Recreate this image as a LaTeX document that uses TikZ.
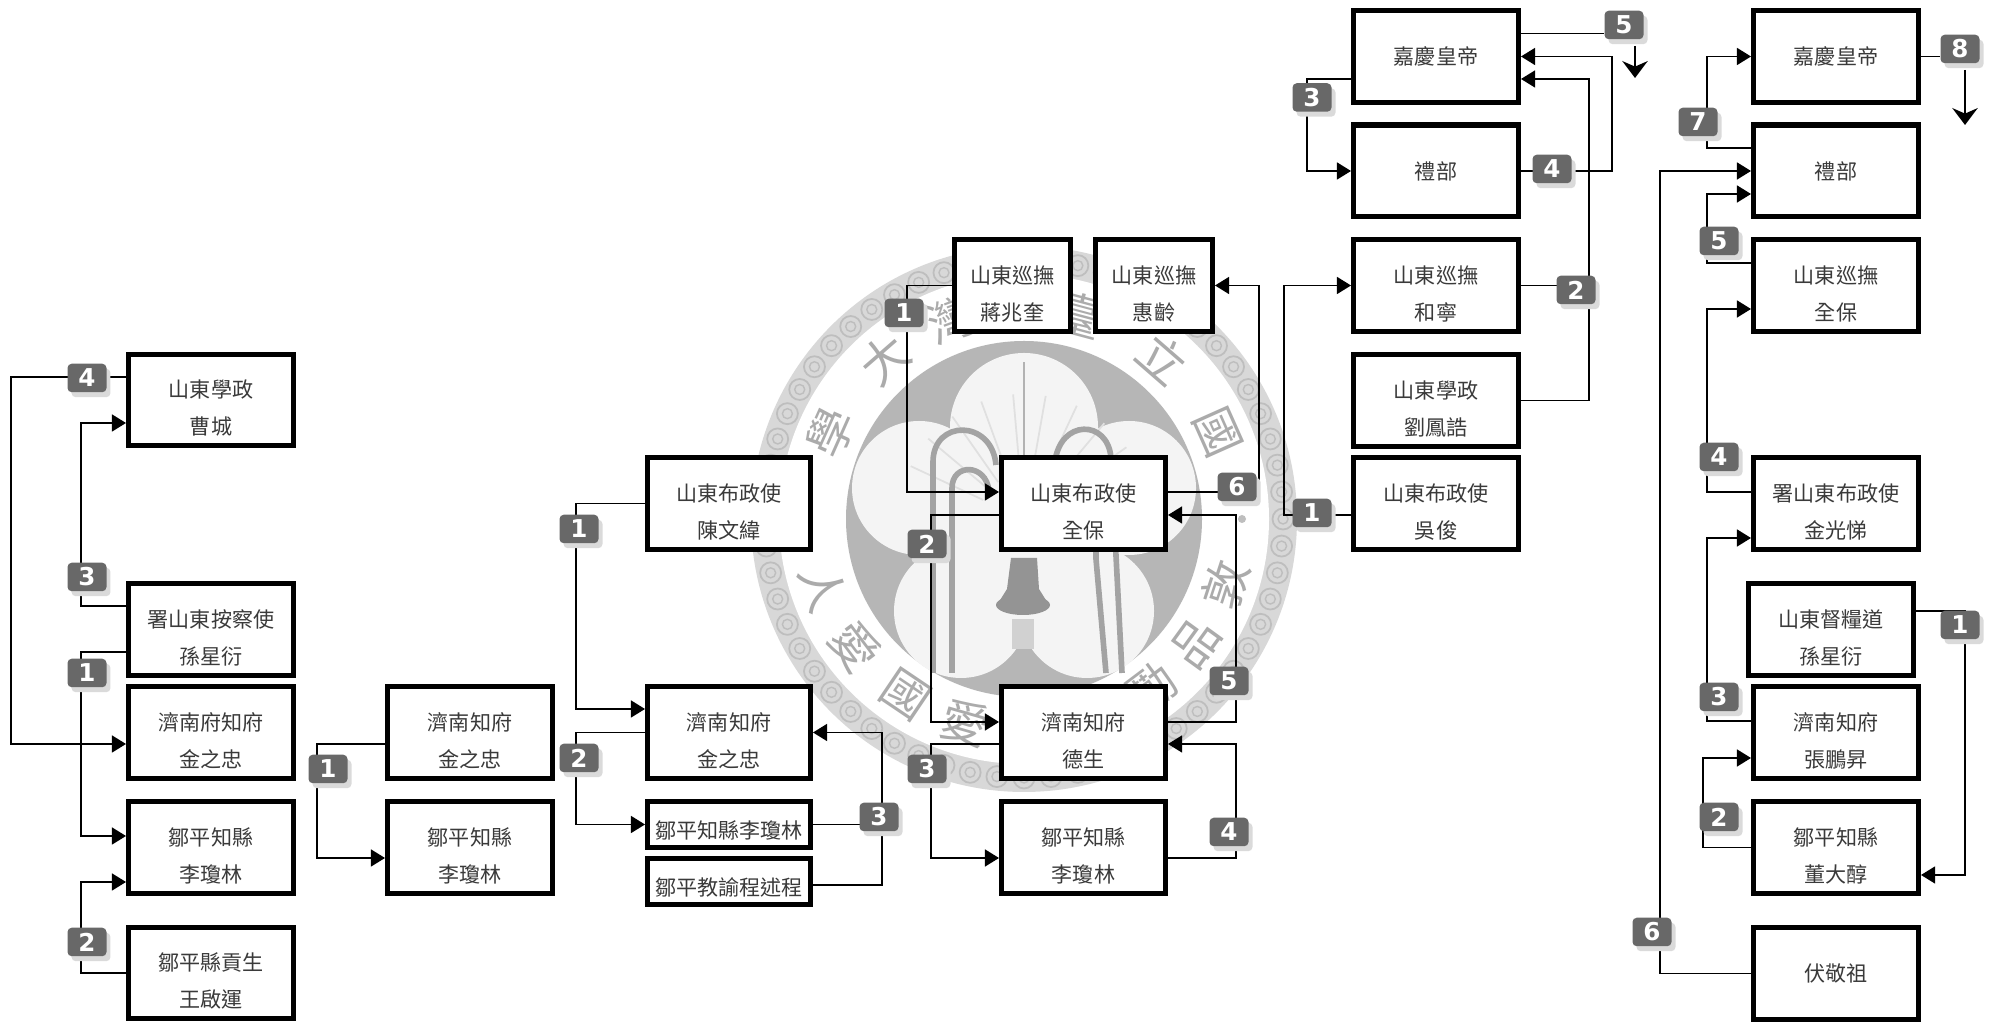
\documentclass[tikz,border=0pt]{standalone}
\usepackage{fontspec}
\setmainfont{Noto Sans CJK TC}
\setsansfont{DejaVu Sans}
\usetikzlibrary{calc,arrows.meta,shadows}

\definecolor{ink}{HTML}{3A3A3A}
\definecolor{sealband}{HTML}{D8D8D8}
\definecolor{sealline}{HTML}{BEBEBE}
\definecolor{sealdisc}{HTML}{B6B6B6}
\definecolor{sealpetal}{HTML}{F4F4F4}
\definecolor{sealmark}{HTML}{ABABAB}
\definecolor{badgegray}{HTML}{686868}
\definecolor{badgeshade}{HTML}{DADADA}

\tikzset{
  office/.style={draw,line width=1.5pt,fill=white,minimum width=1.647cm,minimum height=0.917cm,
    inner sep=0pt,align=center,text=ink,font=\fontsize{6}{10.5}\selectfont},
  duo/.style={execute at begin node={\rule{0pt}{20.3pt}}},
  slim/.style={minimum width=1.627cm,minimum height=0.46cm,execute at begin node={\rule{0pt}{8.4pt}}},
  wire/.style={line width=0.55pt},
  flow/.style={wire,-{Triangle[length=4pt,width=4.8pt]}},
  outflow/.style={line width=0.7pt,-{Stealth[length=4.8pt,width=7.2pt]}},
  badge/.style={fill=badgegray,rounded corners=1.2pt,minimum width=0.39cm,minimum height=0.285cm,inner sep=0pt,
    text=white,font=\fontsize{7}{8}\sffamily\bfseries,
    drop shadow={shadow xshift=0.04cm,shadow yshift=-0.05cm,fill=badgeshade,opacity=1}},
  sealchar/.style={text=sealmark,inner sep=0pt,font=\fontsize{13.5}{14}\selectfont},
}

\begin{document}
\begin{tikzpicture}[x=1cm,y=1cm]
\useasboundingbox (0,0) rectangle (20,10.25);

% ----- seal behind the chart -----
\begin{scope}[shift={(10.24,5.06)}]
  \fill[sealband] (0,0) circle (2.73);
  \foreach \a in {0,6,...,354} {
    \draw[sealline,line width=0.5pt] (\a:2.59) circle (0.105);
    \draw[sealline,line width=0.4pt] (\a:2.59) circle (0.05);
  }
  \fill[white] (0,0) circle (2.45);
  \fill[sealdisc] (0,0) circle (1.78);
  \fill[sealpetal] (0,0.92) circle (0.74) (-1.05,0.31) circle (0.67) (1.05,0.31) circle (0.67)
    (-0.63,-0.92) circle (0.67) (0.63,-0.92) circle (0.67) (0,0) circle (0.9);
  % leaves
  \foreach \a in {20,35,...,160} {
    \draw[black!12,line width=0.5pt] (\a:0.45) -- (\a:1.25);
  }
  \draw[black!30,line width=0.5pt] (0,0.61) -- (0,1.57);
  % pipes
  \draw[black!36,line width=1.6pt] (-0.91,-1.54) -- (-0.91,0.57) .. controls (-0.91,1.0) and (-0.32,1.0) .. (-0.28,0.54);
  \draw[black!36,line width=1.6pt] (-0.72,-1.54) -- (-0.72,0.31) .. controls (-0.72,0.56) and (-0.38,0.56) .. (-0.35,0.28);
  \draw[black!36,line width=1.6pt] (0.31,0.57) .. controls (0.36,1.0) and (0.84,1.0) .. (0.87,0.61) -- (0.98,-1.54);
  \draw[black!36,line width=1.6pt] (0.72,0.2) -- (0.72,-0.4) -- (0.82,-1.54);
  % bell
  \fill[black!42] (-0.13,-0.39) -- (0.13,-0.39) -- (0.15,-0.7) -- (0.25,-0.86) -- (-0.27,-0.86) -- (-0.17,-0.7) -- cycle;
  \fill[black!42] (-0.01,-0.86) ellipse (0.27 and 0.1);
  \fill[black!18] (-0.12,-1.0) rectangle (0.1,-1.3);
  \fill[sealline] (2.18,0) circle (0.04);
  % name and motto round the band
  \foreach \a/\c in {24/國,49/立,75/臺,110/灣,131/大,156/學} {
    \node[sealchar,rotate=\a-90] (seal\a) at (\a:2.12) {\c};
  }
  \foreach \a/\c in {-18/敦,-36/品,-53/勵,-106/愛,-124/國,-143/愛,-161/人} {
    \node[sealchar,rotate=\a+90] (seal\a) at (\a:2.12) {\c};
  }
\end{scope}

% Panel A
\node[office,duo] (A1) at (2.11,6.25) {山東學政\\曹城};
\node[office,duo] (A2) at (2.11,3.955) {署山東按察使\\孫星衍};
\node[office,duo] (A3) at (2.11,2.925) {濟南府知府\\金之忠};
\node[office,duo] (A4) at (2.11,1.775) {鄒平知縣\\李瓊林};
\node[office,duo] (A5) at (2.11,0.52) {鄒平縣貢生\\王啟運};

\draw[flow] ([yshift=-0.225cm]A2.west) -- ++(-0.45,0) |- ([yshift=0.115cm]A4.west);
\draw[flow] (A5.west) -- ++(-0.45,0) |- ([yshift=-0.345cm]A4.west);
\draw[flow] ([yshift=0.235cm]A2.west) -- ++(-0.45,0) |- ([yshift=-0.23cm]A1.west);
\draw[flow] ([yshift=0.23cm]A1.west) -- ++(-1.15,0) |- ([yshift=-0.115cm]A3.west);

\node[badge] (bA1) at (0.87,3.52) {1};
\node[badge] (bA2) at (0.87,0.83) {2};
\node[badge] (bA3) at (0.87,4.48) {3};
\node[badge] (bA4) at (0.87,6.47) {4};

% Panel B
\node[office,duo] (B1) at (4.70,2.925) {濟南知府\\金之忠};
\node[office,duo] (B2) at (4.70,1.775) {鄒平知縣\\李瓊林};

\draw[flow] ([yshift=-0.115cm]B1.west) -- ++(-0.68,0) |- ([yshift=-0.105cm]B2.west);

\node[badge] (bB1) at (3.28,2.56) {1};

% Panel C
\node[office,duo,minimum width=1.627cm] (C1) at (7.29,5.215) {山東布政使\\陳文緯};
\node[office,duo,minimum width=1.627cm] (C2) at (7.29,2.925) {濟南知府\\金之忠};
\node[office,slim] (C3) at (7.29,2.005) {鄒平知縣李瓊林};
\node[office,slim] (C4) at (7.29,1.435) {鄒平教諭程述程};

\draw[flow] (C1.west) -- ++(-0.69,0) |- ([yshift=0.235cm]C2.west);
\draw[flow] (C2.west) -- ++(-0.69,0) |- (C3.west);
\draw[flow] (C3.east) -- ++(0.69,0) |- (C2.east);
\draw[wire] ([yshift=-0.035cm]C4.east) -| ($(C3.east)+(0.69,0)$);

\node[badge] (bC1) at (5.79,4.96) {1};
\node[badge] (bC2) at (5.79,2.67) {2};
\node[badge] (bC3) at (8.79,2.08) {3};

% Panel D
\node[office,duo,minimum width=1.157cm] (D1) at (10.125,7.395) {山東巡撫\\蔣兆奎};
\node[office,duo,minimum width=1.167cm] (D2) at (11.54,7.395) {山東巡撫\\惠齡};
\node[office,duo,minimum width=1.637cm] (D3) at (10.835,5.215) {山東布政使\\全保};
\node[office,duo,minimum width=1.637cm] (D4) at (10.835,2.925) {濟南知府\\德生};
\node[office,duo,minimum width=1.637cm] (D5) at (10.835,1.775) {鄒平知縣\\李瓊林};

\draw[flow] (D1.west) -- ++(-0.45,0) |- ([yshift=0.115cm]D3.west);
\draw[flow] ([yshift=-0.115cm]D3.west) -- ++(-0.68,0) |- ([yshift=0.105cm]D4.west);
\draw[flow] ([yshift=-0.115cm]D4.west) -- ++(-0.68,0) |- ([yshift=-0.105cm]D5.west);
\draw[flow] ([yshift=-0.105cm]D5.east) -- ++(0.68,0) |- ([yshift=-0.115cm]D4.east);
\draw[flow] ([yshift=0.105cm]D4.east) -- ++(0.68,0) |- ([yshift=-0.115cm]D3.east);
\draw[flow] ([yshift=0.115cm]D3.east) -- ++(0.91,0) |- (D2.east);

\node[badge] (bD1) at (9.04,7.12) {1};
\node[badge] (bD2) at (9.27,4.81) {2};
\node[badge] (bD3) at (9.27,2.56) {3};
\node[badge] (bD4) at (12.29,1.93) {4};
\node[badge] (bD5) at (12.29,3.44) {5};
\node[badge] (bD6) at (12.37,5.38) {6};

% Panel E
\node[office] (E1) at (14.36,9.685) {嘉慶皇帝};
\node[office] (E2) at (14.36,8.54) {禮部};
\node[office,duo] (E3) at (14.36,7.395) {山東巡撫\\和寧};
\node[office,duo] (E4) at (14.36,6.245) {山東學政\\劉鳳誥};
\node[office,duo] (E5) at (14.36,5.215) {山東布政使\\吳俊};

\draw[flow] ([yshift=-0.115cm]E5.west) -- ++(-0.67,0) |- (E3.west);
\draw[flow] (E3.east) -- ++(0.68,0) |- ([yshift=-0.225cm]E1.east);
\draw[wire] (E4.east) -| ($(E3.east)+(0.68,0)$);
\draw[flow] ([yshift=-0.225cm]E1.west) -- ++(-0.44,0) |- (E2.west);
\draw[flow] (E2.east) -- ++(0.91,0) |- (E1.east);

\coordinate (endE) at (16.35,9.47);
\node[badge] (bE1) at (13.12,5.12) {1};
\node[badge] (bE2) at (15.76,7.35) {2};
\node[badge] (bE3) at (13.12,9.275) {3};
\node[badge] (bE4) at (15.52,8.56) {4};
\node[badge] (bE5) at (16.24,10.0) {5};
\draw[wire] ([yshift=0.23cm]E1.east) -- (bE5.west |- {$(E1.east)+(0,0.23)$});
\draw[outflow] (endE |- bE5.south) ++(0,-0.06) -- (endE);

% Panel F
\node[office] (F1) at (18.36,9.685) {嘉慶皇帝};
\node[office] (F2) at (18.36,8.54) {禮部};
\node[office,duo] (F3) at (18.36,7.395) {山東巡撫\\全保};
\node[office,duo] (F4) at (18.36,5.215) {署山東布政使\\金光悌};
\node[office,duo] (F5) at (18.31,3.955) {山東督糧道\\孫星衍};
\node[office,duo] (F6) at (18.36,2.925) {濟南知府\\張鵬昇};
\node[office,duo] (F7) at (18.36,1.775) {鄒平知縣\\董大醇};
\node[office] (F8) at (18.36,0.515) {伏敬祖};

\draw[flow] ([yshift=0.185cm]F5.east) -- ++(0.49,0) |- ([yshift=-0.275cm]F7.east);
\draw[flow] (F7.west) -- ++(-0.48,0) |- ([yshift=-0.255cm]F6.west);
\draw[flow] ([yshift=0.115cm]F6.west) -- ++(-0.44,0) |- ([yshift=-0.345cm]F4.west);
\draw[flow] ([yshift=0.115cm]F4.west) -- ++(-0.44,0) |- ([yshift=-0.235cm]F3.west);
\draw[flow] ([yshift=0.225cm]F3.west) -- ++(-0.44,0) |- ([yshift=-0.23cm]F2.west);
\draw[flow] (F8.west) -- ++(-0.91,0) |- (F2.west);
\draw[flow] ([yshift=0.23cm]F2.west) -- ++(-0.44,0) |- (F1.west);

\coordinate (endF) at (19.65,9.0);
\node[badge] (bF1) at (19.60,4.0) {1};
\node[badge] (bF2) at (17.19,2.08) {2};
\node[badge] (bF3) at (17.19,3.28) {3};
\node[badge] (bF4) at (17.19,5.68) {4};
\node[badge] (bF5) at (17.19,7.84) {5};
\node[badge] (bF6) at (16.52,0.93) {6};
\node[badge] (bF7) at (16.98,9.03) {7};
\node[badge] (bF8) at (19.60,9.76) {8};
\draw[wire] (F1.east) -- (bF8.west |- F1.east);
\draw[outflow] (endF |- bF8.south) ++(0,-0.06) -- (endF);

\end{tikzpicture}
\end{document}
